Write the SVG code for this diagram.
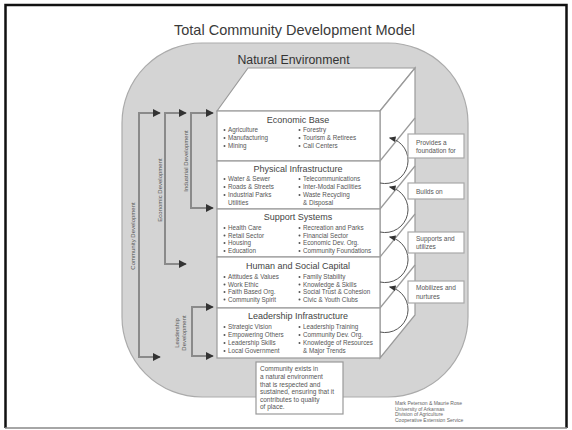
<svg xmlns="http://www.w3.org/2000/svg" width="572" height="430" viewBox="0 0 572 430">
<defs>
<style>
text{font-family:"Liberation Sans",Arial,sans-serif;fill:#444}
.title{font-size:14.5px;fill:#3a3a3a;text-anchor:middle}
.env{font-size:12.3px;fill:#333;text-anchor:middle}
.lt{font-size:9px;text-anchor:middle;fill:#444}
.it{font-size:6.3px;fill:#555}
.sm{font-size:6.5px;fill:#555}
.vl{font-size:6px;fill:#555;text-anchor:middle}
.cr{font-size:5px;fill:#666}
.layer{fill:#fff;stroke:#9a9a9a;stroke-width:1.2}
.face{fill:#fff;stroke:#9a9a9a;stroke-width:1.2}
.br{fill:none;stroke:#8a8a8a;stroke-width:2}
.arc{fill:none;stroke:#555;stroke-width:1}
.lbl{fill:#fff;stroke:#a8a8a8;stroke-width:1.2}
.b{fill:#555}
</style>
<marker id="ah" viewBox="0 0 10 10" refX="9" refY="5" markerWidth="4" markerHeight="4" orient="auto-start-reverse">
<path d="M0,0 L10,5 L0,10 Z" fill="#333"/>
</marker>
<marker id="ah2" viewBox="0 0 10 10" refX="8" refY="5" markerWidth="7" markerHeight="7" orient="auto">
<path d="M0,1 L10,5 L0,9 Z" fill="#333"/>
</marker>
</defs>
<rect x="0" y="0" width="572" height="430" fill="#fff"/>
<path d="M5.5,428 V5 H566.5 V428" fill="none" stroke="#111" stroke-width="2.5"/>
<line x1="5" y1="428" x2="567" y2="428" stroke="#888" stroke-width="1.5"/>

<text class="title" x="294.5" y="35">Total Community Development Model</text>

<g id="environment">
<path d="M202,43 H388 A80,80 0 0 1 468,123 V317 A80,80 0 0 1 388,397 H202 A80,80 0 0 1 122,317 V123 A80,80 0 0 1 202,43 Z" fill="#d4d4d4" stroke="#ababab" stroke-width="1.2"/>
<text class="env" x="293.5" y="64">Natural Environment</text>
</g>

<g id="box-faces">
<polygon class="face" points="217,111 248,68 415,68 380,111"/>
<polygon class="face" points="380,111 415,68 415,315 380,358"/>
<line x1="380" y1="161" x2="415" y2="118" stroke="#9a9a9a" stroke-width="1.2"/>
<line x1="380" y1="209" x2="415" y2="166" stroke="#9a9a9a" stroke-width="1.2"/>
<line x1="380" y1="257" x2="415" y2="214" stroke="#9a9a9a" stroke-width="1.2"/>
<line x1="380" y1="308" x2="415" y2="265" stroke="#9a9a9a" stroke-width="1.2"/>
</g>

<g id="economic-base">
<rect class="layer" x="217" y="111" width="163" height="50"/>
<text class="lt" x="298" y="123">Economic Base</text>
<circle class="b" cx="224.5" cy="130" r="1"/><text class="it" x="228" y="132">Agriculture</text>
<circle class="b" cx="224.5" cy="138" r="1"/><text class="it" x="228" y="140">Manufacturing</text>
<circle class="b" cx="224.5" cy="146" r="1"/><text class="it" x="228" y="148">Mining</text>
<circle class="b" cx="299.5" cy="130" r="1"/><text class="it" x="303" y="132">Forestry</text>
<circle class="b" cx="299.5" cy="138" r="1"/><text class="it" x="303" y="140">Tourism &amp; Retirees</text>
<circle class="b" cx="299.5" cy="146" r="1"/><text class="it" x="303" y="148">Call Centers</text>
</g>

<g id="physical-infrastructure">
<rect class="layer" x="217" y="161" width="163" height="48"/>
<text class="lt" x="298" y="171.5">Physical Infrastructure</text>
<circle class="b" cx="224.5" cy="179" r="1"/><text class="it" x="228" y="181">Water &amp; Sewer</text>
<circle class="b" cx="224.5" cy="187" r="1"/><text class="it" x="228" y="189">Roads &amp; Streets</text>
<circle class="b" cx="224.5" cy="195" r="1"/><text class="it" x="228" y="197">Industrial Parks</text>
<text class="it" x="228" y="205">Utilities</text>
<circle class="b" cx="299.5" cy="179" r="1"/><text class="it" x="303" y="181">Telecommunications</text>
<circle class="b" cx="299.5" cy="187" r="1"/><text class="it" x="303" y="189">Inter-Modal Facilities</text>
<circle class="b" cx="299.5" cy="195" r="1"/><text class="it" x="303" y="197">Waste Recycling</text>
<text class="it" x="303" y="205">&amp; Disposal</text>
</g>

<g id="support-systems">
<rect class="layer" x="217" y="209" width="163" height="48"/>
<text class="lt" x="298" y="220">Support Systems</text>
<circle class="b" cx="224.5" cy="228" r="1"/><text class="it" x="228" y="230">Health Care</text>
<circle class="b" cx="224.5" cy="235.5" r="1"/><text class="it" x="228" y="237.5">Retail Sector</text>
<circle class="b" cx="224.5" cy="243" r="1"/><text class="it" x="228" y="245">Housing</text>
<circle class="b" cx="224.5" cy="251" r="1"/><text class="it" x="228" y="253">Education</text>
<circle class="b" cx="299.5" cy="228" r="1"/><text class="it" x="303" y="230">Recreation and Parks</text>
<circle class="b" cx="299.5" cy="235.5" r="1"/><text class="it" x="303" y="237.5">Financial Sector</text>
<circle class="b" cx="299.5" cy="243" r="1"/><text class="it" x="303" y="245">Economic Dev. Org.</text>
<circle class="b" cx="299.5" cy="251" r="1"/><text class="it" x="303" y="253">Community Foundations</text>
</g>

<g id="human-social-capital">
<rect class="layer" x="217" y="257" width="163" height="51"/>
<text class="lt" x="298" y="268.5">Human and Social Capital</text>
<circle class="b" cx="224.5" cy="277" r="1"/><text class="it" x="228" y="279">Attitudes &amp; Values</text>
<circle class="b" cx="224.5" cy="284.5" r="1"/><text class="it" x="228" y="286.5">Work Ethic</text>
<circle class="b" cx="224.5" cy="292" r="1"/><text class="it" x="228" y="294">Faith Based Org.</text>
<circle class="b" cx="224.5" cy="299.5" r="1"/><text class="it" x="228" y="301.5">Community Spirit</text>
<circle class="b" cx="299.5" cy="277" r="1"/><text class="it" x="303" y="279">Family Stability</text>
<circle class="b" cx="299.5" cy="284.5" r="1"/><text class="it" x="303" y="286.5">Knowledge &amp; Skills</text>
<circle class="b" cx="299.5" cy="292" r="1"/><text class="it" x="303" y="294">Social Trust &amp; Cohesion</text>
<circle class="b" cx="299.5" cy="299.5" r="1"/><text class="it" x="303" y="301.5">Civic &amp; Youth Clubs</text>
</g>

<g id="leadership-infrastructure">
<rect class="layer" x="217" y="308" width="163" height="50"/>
<text class="lt" x="298" y="319">Leadership Infrastructure</text>
<circle class="b" cx="224.5" cy="327" r="1"/><text class="it" x="228" y="329">Strategic Vision</text>
<circle class="b" cx="224.5" cy="335" r="1"/><text class="it" x="228" y="337">Empowering Others</text>
<circle class="b" cx="224.5" cy="343" r="1"/><text class="it" x="228" y="345">Leadership Skills</text>
<circle class="b" cx="224.5" cy="351" r="1"/><text class="it" x="228" y="353">Local Government</text>
<circle class="b" cx="299.5" cy="327" r="1"/><text class="it" x="303" y="329">Leadership Training</text>
<circle class="b" cx="299.5" cy="335" r="1"/><text class="it" x="303" y="337">Community Dev. Org.</text>
<circle class="b" cx="299.5" cy="343" r="1"/><text class="it" x="303" y="345">Knowledge of Resources</text>
<text class="it" x="303" y="353">&amp; Major Trends</text>
</g>

<g id="connectors">
<path class="br" d="M160,113 H139 V357 H160" marker-start="url(#ah)" marker-end="url(#ah)"/>
<path class="br" d="M186,113 H165 V264 H186" marker-start="url(#ah)" marker-end="url(#ah)"/>
<path class="br" d="M213,113 H191 V208 H213" marker-start="url(#ah)" marker-end="url(#ah)"/>
<path class="br" d="M213,307 H192 V356 H213" marker-start="url(#ah)" marker-end="url(#ah)"/>
<path class="arc" d="M380,183 A23,23 0 0 0 390,138" marker-end="url(#ah2)"/>
<path class="arc" d="M380,232 A23,23 0 0 0 390,187" marker-end="url(#ah2)"/>
<path class="arc" d="M380,282 A23,23 0 0 0 390,237" marker-end="url(#ah2)"/>
<path class="arc" d="M380,332 A23,23 0 0 0 390,287" marker-end="url(#ah2)"/>
</g>

<g id="dev-labels">
<text class="vl" transform="translate(135,236) rotate(-90)">Community Development</text>
<text class="vl" transform="translate(162,190) rotate(-90)">Economic Development</text>
<text class="vl" transform="translate(188,161) rotate(-90)">Industrial Development</text>
<text class="vl" transform="translate(179,333) rotate(-90)">Leadership</text>
<text class="vl" transform="translate(185.5,333) rotate(-90)">Development</text>
</g>

<g id="label-foundation">
<rect class="lbl" x="408" y="134" width="56" height="24"/>
<text class="sm" x="416" y="145">Provides a</text>
<text class="sm" x="416" y="153">foundation for</text>
</g>
<g id="label-builds">
<rect class="lbl" x="408" y="183" width="56" height="16"/>
<text class="sm" x="416" y="194">Builds on</text>
</g>
<g id="label-supports">
<rect class="lbl" x="408" y="232" width="56" height="21"/>
<text class="sm" x="416" y="241">Supports and</text>
<text class="sm" x="416" y="249">utilizes</text>
</g>
<g id="label-mobilizes">
<rect class="lbl" x="408" y="281" width="56" height="22"/>
<text class="sm" x="416" y="290">Mobilizes and</text>
<text class="sm" x="416" y="298.5">nurtures</text>
</g>

<g id="note">
<rect x="256" y="362" width="87" height="52" fill="#fff" stroke="#999" stroke-width="1.2"/>
<text class="sm" x="260" y="371">Community exists in</text>
<text class="sm" x="260" y="379">a natural environment</text>
<text class="sm" x="260" y="386.5">that is respected and</text>
<text class="sm" x="260" y="394">sustained, ensuring that it</text>
<text class="sm" x="260" y="401.5">contributes to quality</text>
<text class="sm" x="260" y="409">of place.</text>
</g>

<g id="credits">
<text class="cr" x="395" y="405">Mark Peterson &amp; Maurie Rose</text>
<text class="cr" x="395" y="410.5">University of Arkansas</text>
<text class="cr" x="395" y="416">Division of Agriculture</text>
<text class="cr" x="395" y="421.5">Cooperative Extension Service</text>
</g>
</svg>
